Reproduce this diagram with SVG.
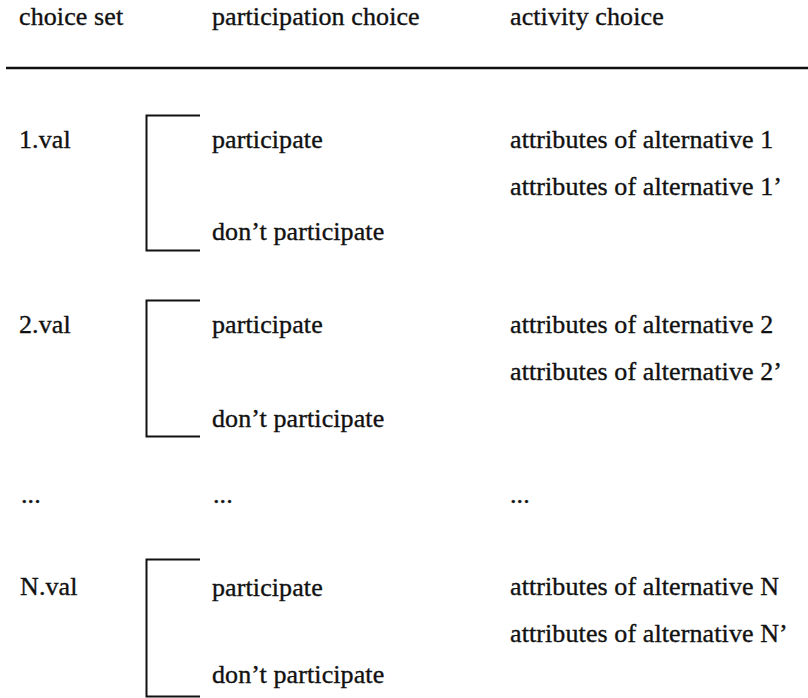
<svg xmlns="http://www.w3.org/2000/svg" width="808" height="698" viewBox="0 0 808 698">
<style>
  text { font-family: "Liberation Serif", "Times New Roman", serif; font-size: 26px; letter-spacing: 0.1px; fill: #111; stroke: #111; stroke-width: 0.35px; }
  .rule { stroke: #111; stroke-width: 2.5; fill: none; }
  .bracket { stroke: #111; stroke-width: 2; fill: none; }
</style>
<rect width="808" height="698" fill="#fff"/>
<g id="header">
  <text x="19" y="25">choice set</text>
  <text x="212" y="25">participation choice</text>
  <text x="510" y="25">activity choice</text>
  <line class="rule" x1="6" y1="68" x2="808" y2="68"/>
</g>
<g id="connectors">
  <path class="bracket" d="M200,115.5 H146.5 V250.5 H200"/>
  <path class="bracket" d="M200,300.5 H146.5 V436.5 H200"/>
  <path class="bracket" d="M200,559.5 H146.5 V696.5 H200"/>
</g>
<g id="block1">
  <text x="19" y="148">1.val</text>
  <text x="212" y="148">participate</text>
  <text x="212" y="240">don’t participate</text>
  <text x="510" y="148">attributes of alternative 1</text>
  <text x="510" y="195">attributes of alternative 1’</text>
</g>
<g id="block2">
  <text x="19" y="333">2.val</text>
  <text x="212" y="333">participate</text>
  <text x="212" y="427">don’t participate</text>
  <text x="510" y="333">attributes of alternative 2</text>
  <text x="510" y="380">attributes of alternative 2’</text>
</g>
<g id="ellipsis">
  <text x="21" y="503">...</text>
  <text x="213" y="503">...</text>
  <text x="510" y="503">...</text>
</g>
<g id="blockN">
  <text x="20" y="595">N.val</text>
  <text x="212" y="596">participate</text>
  <text x="212" y="683">don’t participate</text>
  <text x="510" y="595">attributes of alternative N</text>
  <text x="510" y="642">attributes of alternative N’</text>
</g>
</svg>
